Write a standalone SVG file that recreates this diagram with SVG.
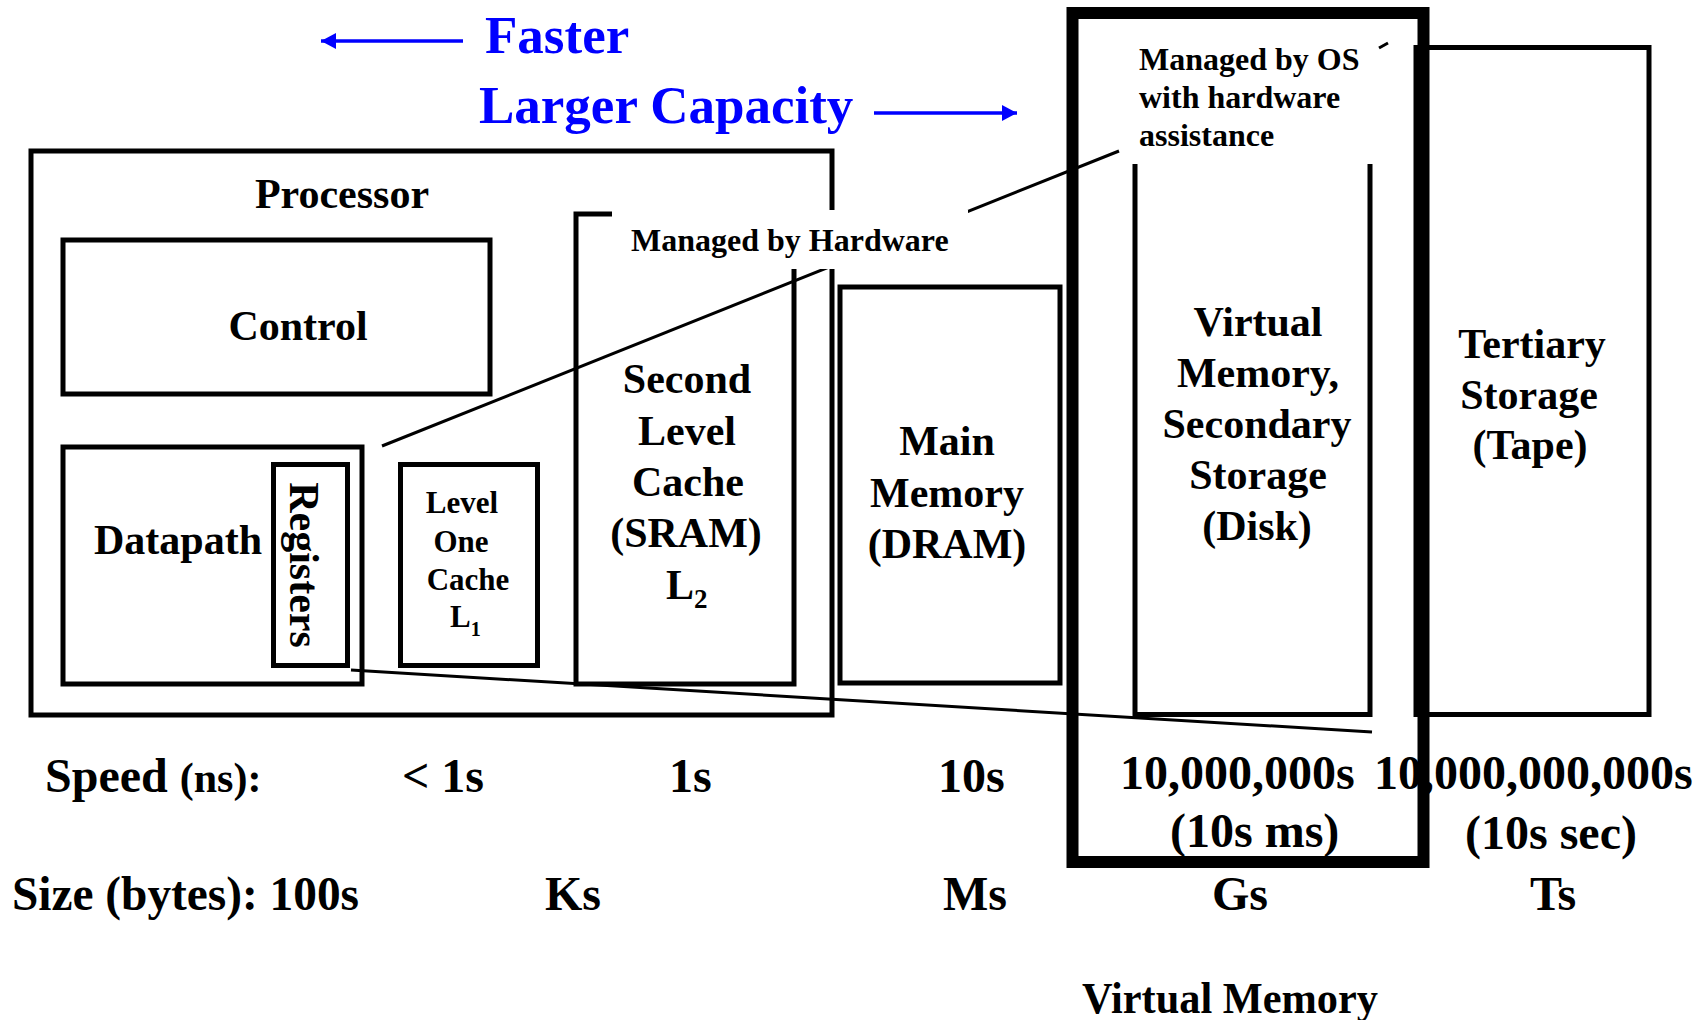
<svg xmlns="http://www.w3.org/2000/svg" width="1707" height="1020" viewBox="0 0 1707 1020">
<defs>
<style>
.box{fill:none;stroke:#000;stroke-width:5}
.thick{fill:none;stroke:#000;stroke-width:12}
.t{font-family:"Liberation Serif","Times New Roman",serif;font-weight:bold;fill:#000}
.big{font-size:42px}
.sm{font-size:31px}
.mid{font-size:48px}
.lbl{font-size:32px}
.c{text-anchor:middle}
.blue{fill:#0000ff;font-size:53px}
.conn{stroke:#000;stroke-width:3;fill:none}
.arr{stroke:#0000ff;stroke-width:3.5;fill:none}
.mask{fill:#fff;stroke:none}
</style>
<marker id="ah" markerUnits="userSpaceOnUse" markerWidth="16" markerHeight="16" refX="15" refY="8" orient="auto"><path d="M0,0 L15,8 L0,16 z" fill="#0000ff"/></marker>
</defs>
<rect x="0" y="0" width="1707" height="1020" fill="#fff"/>

<g id="legend">
<line class="arr" x1="463" y1="41" x2="321" y2="41" marker-end="url(#ah)"/>
<text class="t blue" x="485" y="53">Faster</text>
<text class="t blue" x="479" y="123">Larger Capacity</text>
<line class="arr" x1="874" y1="113" x2="1017" y2="113" marker-end="url(#ah)"/>
</g>

<g id="processor">
<rect class="box" x="31" y="151" width="801" height="564"/>
<text class="t big c" x="342" y="208">Processor</text>
</g>
<g id="control">
<rect class="box" x="63" y="240" width="427" height="154"/>
<text class="t big c" x="298" y="340">Control</text>
</g>
<g id="datapath">
<rect class="box" x="63" y="447" width="299" height="237"/>
<text class="t big c" x="178" y="554">Datapath</text>
</g>
<g id="registers">
<rect class="box" x="273.5" y="464.5" width="74" height="201"/>
<text class="t big c" transform="translate(290,565) rotate(90)" x="0" y="0">Registers</text>
</g>
<g id="l1cache">
<rect class="box" x="400.5" y="464.5" width="137" height="201"/>
<text class="t sm c" x="462" y="513">Level</text>
<text class="t sm c" x="461" y="552">One</text>
<text class="t sm c" x="468" y="590">Cache</text>
<text class="t sm" x="450" y="627">L<tspan font-size="20" dy="9">1</tspan></text>
</g>
<g id="l2cache">
<rect class="box" x="576" y="214" width="218" height="470"/>
<text class="t big c" x="687" y="393">Second</text>
<text class="t big c" x="687" y="445">Level</text>
<text class="t big c" x="688" y="496">Cache</text>
<text class="t big c" x="686" y="547">(SRAM)</text>
<text class="t big" x="666" y="599">L<tspan font-size="27" dy="9">2</tspan></text>
</g>
<g id="mainmemory">
<rect class="box" x="840" y="287" width="220" height="396"/>
<text class="t big c" x="947" y="455">Main</text>
<text class="t big c" x="947" y="507">Memory</text>
<text class="t big c" x="947" y="558">(DRAM)</text>
</g>
<g id="disk">
<path class="box" d="M1135,164 V714.5 H1370 V164"/>
<text class="t big c" x="1258" y="336">Virtual</text>
<text class="t big c" x="1258" y="387">Memory,</text>
<text class="t big c" x="1257" y="438">Secondary</text>
<text class="t big c" x="1258" y="489">Storage</text>
<text class="t big c" x="1257" y="540">(Disk)</text>
</g>
<g id="tertiary">
<rect class="box" x="1416" y="47.5" width="233" height="667"/>
<text class="t big c" x="1532" y="358">Tertiary</text>
<text class="t big c" x="1529" y="409">Storage</text>
<text class="t big c" x="1530" y="459">(Tape)</text>
</g>

<g id="connectors">
<line class="conn" x1="382" y1="446" x2="1119" y2="151"/>
<line class="conn" x1="351" y1="670" x2="1372" y2="732"/>
<line class="conn" x1="1379" y1="48" x2="1388" y2="43"/>
</g>

<g id="label-hardware">
<rect class="mask" x="612" y="210" width="356" height="59"/>
<text class="t lbl" x="631" y="251">Managed by Hardware</text>
</g>
<g id="label-os">
<rect class="mask" x="1120" y="22" width="258" height="142"/>
<text class="t lbl" x="1139" y="70">Managed by OS</text>
<text class="t lbl" x="1139" y="108">with hardware</text>
<text class="t lbl" x="1139" y="146">assistance</text>
</g>

<g id="speed-row">
<text class="t mid" x="45" y="792">Speed <tspan font-size="42">(ns):</tspan></text>
<text class="t mid" x="402" y="792">&lt; 1s</text>
<text class="t mid" x="669" y="792">1s</text>
<text class="t mid" x="938" y="792">10s</text>
<text class="t mid" x="1120" y="789">10,000,000s</text>
<text class="t mid" x="1170" y="847">(10s ms)</text>
<text class="t mid" x="1374" y="789">10,000,000,000s</text>
<text class="t mid" x="1465" y="849">(10s sec)</text>
</g>
<g id="size-row">
<text class="t mid" x="12" y="910" textLength="347" lengthAdjust="spacingAndGlyphs">Size (bytes): 100s</text>
<text class="t mid" x="545" y="910">Ks</text>
<text class="t mid" x="943" y="910">Ms</text>
<text class="t mid" x="1212" y="910">Gs</text>
<text class="t mid" x="1530" y="910">Ts</text>
</g>

<g id="virtual-memory">
<rect class="thick" x="1072.5" y="13" width="351" height="849"/>
<text class="t" font-size="45" x="1082" y="1013" textLength="296" lengthAdjust="spacingAndGlyphs">Virtual Memory</text>
</g>
</svg>
